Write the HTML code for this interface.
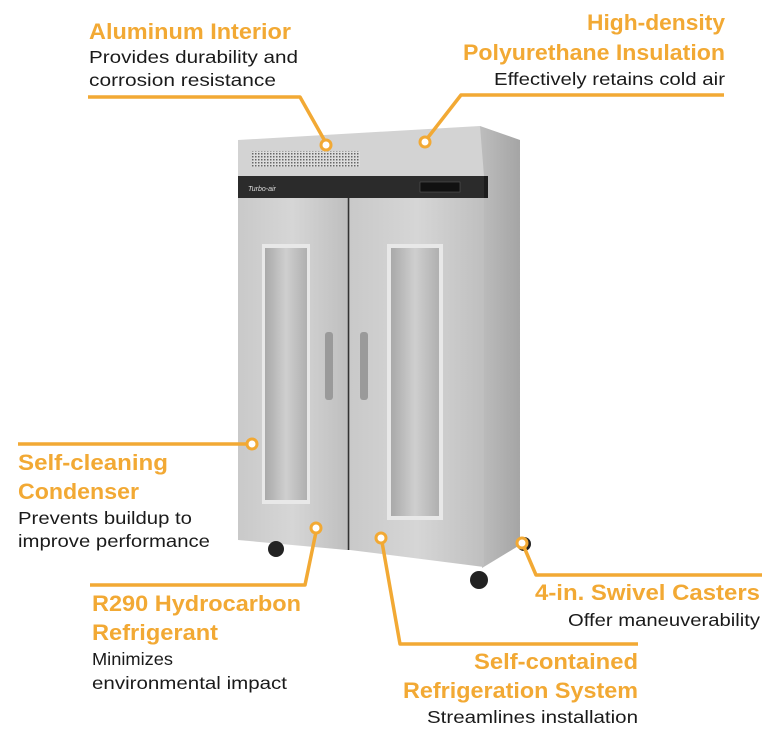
<!DOCTYPE html>
<html><head><meta charset="utf-8"><style>
html,body{margin:0;padding:0;background:#fff;}
svg{display:block;}
.t{font-family:"Liberation Sans Narrow","Liberation Sans",sans-serif;font-weight:bold;font-size:22px;fill:#f2a934;}
.d{font-family:"Liberation Sans Narrow","Liberation Sans",sans-serif;font-size:17.5px;fill:#1a1a1a;}
</style></head><body>
<svg width="770" height="736" viewBox="0 0 770 736" xmlns="http://www.w3.org/2000/svg">
<defs>
<linearGradient id="side" x1="0" x2="1"><stop offset="0" stop-color="#bdbdbd"/><stop offset="1" stop-color="#a5a5a5"/></linearGradient>
<linearGradient id="door" x1="0" x2="1"><stop offset="0" stop-color="#c9c9c9"/><stop offset="0.5" stop-color="#d6d6d6"/><stop offset="1" stop-color="#bfbfbf"/></linearGradient>
<linearGradient id="glass" x1="0" x2="1"><stop offset="0" stop-color="#a9a9a9"/><stop offset="0.5" stop-color="#cfcfcf"/><stop offset="1" stop-color="#b0b0b0"/></linearGradient>
<pattern id="vent" width="3" height="3" patternUnits="userSpaceOnUse"><rect width="3" height="3" fill="#ddd"/><rect width="1.5" height="1.5" fill="#666"/></pattern>
</defs>
<!-- fridge side -->
<polygon points="480,126 520,140 520,545 482,568" fill="url(#side)"/>
<!-- top panel -->
<polygon points="238,140 480,126 484,176 238,176" fill="#d3d3d3"/>
<rect x="252" y="151" width="108" height="16" fill="url(#vent)"/>
<!-- black band -->
<rect x="238" y="176" width="246" height="22" fill="#2b2b2b"/>
<rect x="484" y="176" width="4" height="22" fill="#1c1c1c"/>
<text x="248" y="191" font-family="Liberation Sans" font-size="7" fill="#ddd" font-style="italic">Turbo-air</text>
<rect x="420" y="182" width="40" height="10" fill="#111" stroke="#555" stroke-width="0.6"/>
<circle cx="336" cy="204" r="2" fill="#ddd"/><circle cx="359" cy="202" r="2" fill="#ddd"/>
<!-- doors -->
<polygon points="238,198 347,198 347,550 238,540" fill="url(#door)"/>
<polygon points="350,198 484,198 484,567 350,550" fill="url(#door)"/>
<line x1="348.5" y1="198" x2="348.5" y2="550" stroke="#333" stroke-width="2"/>
<rect x="262" y="244" width="48" height="260" fill="#e8e8e8"/>
<rect x="265" y="248" width="42" height="252" fill="url(#glass)"/>
<rect x="387" y="244" width="56" height="276" fill="#e8e8e8"/>
<rect x="391" y="248" width="48" height="268" fill="url(#glass)"/>
<rect x="325" y="332" width="8" height="68" rx="3" fill="#9a9a9a"/>
<rect x="360" y="332" width="8" height="68" rx="3" fill="#9a9a9a"/>
<!-- casters -->
<circle cx="276" cy="549" r="8" fill="#222"/><circle cx="479" cy="580" r="9" fill="#222"/><circle cx="524" cy="544" r="7" fill="#222"/>
<!-- callout lines -->
<g fill="none" stroke="#f2a934" stroke-width="3.5" stroke-linejoin="round">
<polyline points="88,97 300,97 326,143"/>
<polyline points="724,95 461,95 426,140"/>
<polyline points="18,444 248,444"/>
<polyline points="90,585 305,585 316,532"/>
<polyline points="638,644 400,644 382,542"/>
<polyline points="762,575 536,575 524,547"/>
</g>
<g fill="#fff" stroke="#f2a934" stroke-width="3">
<circle cx="326" cy="145" r="5"/><circle cx="425" cy="142" r="5"/><circle cx="252" cy="444" r="5"/>
<circle cx="316" cy="528" r="5"/><circle cx="381" cy="538" r="5"/><circle cx="522" cy="543" r="5"/>
</g>
<!-- text -->
<text class="t" x="89" y="39" textLength="202" lengthAdjust="spacingAndGlyphs">Aluminum Interior</text>
<text class="d" x="89" y="63" textLength="209" lengthAdjust="spacingAndGlyphs">Provides durability and</text>
<text class="d" x="89" y="86" textLength="187" lengthAdjust="spacingAndGlyphs">corrosion resistance</text>

<text class="t" x="587" y="30" textLength="138" lengthAdjust="spacingAndGlyphs">High-density</text>
<text class="t" x="463" y="60" textLength="262" lengthAdjust="spacingAndGlyphs">Polyurethane Insulation</text>
<text class="d" x="494" y="85" textLength="231" lengthAdjust="spacingAndGlyphs">Effectively retains cold air</text>

<text class="t" x="18" y="470" textLength="150" lengthAdjust="spacingAndGlyphs">Self-cleaning</text>
<text class="t" x="18" y="499" textLength="121" lengthAdjust="spacingAndGlyphs">Condenser</text>
<text class="d" x="18" y="524" textLength="174" lengthAdjust="spacingAndGlyphs">Prevents buildup to</text>
<text class="d" x="18" y="547" textLength="192" lengthAdjust="spacingAndGlyphs">improve performance</text>

<text class="t" x="92" y="611" textLength="209" lengthAdjust="spacingAndGlyphs">R290 Hydrocarbon</text>
<text class="t" x="92" y="640" textLength="126" lengthAdjust="spacingAndGlyphs">Refrigerant</text>
<text class="d" x="92" y="665" textLength="81" lengthAdjust="spacingAndGlyphs">Minimizes</text>
<text class="d" x="92" y="689" textLength="195" lengthAdjust="spacingAndGlyphs">environmental impact</text>

<text class="t" x="474" y="669" textLength="164" lengthAdjust="spacingAndGlyphs">Self-contained</text>
<text class="t" x="403" y="698" textLength="235" lengthAdjust="spacingAndGlyphs">Refrigeration System</text>
<text class="d" x="427" y="723" textLength="211" lengthAdjust="spacingAndGlyphs">Streamlines installation</text>

<text class="t" x="535" y="600" textLength="225" lengthAdjust="spacingAndGlyphs">4-in. Swivel Casters</text>
<text class="d" x="568" y="626" textLength="192" lengthAdjust="spacingAndGlyphs">Offer maneuverability</text>
</svg>
</body></html>
